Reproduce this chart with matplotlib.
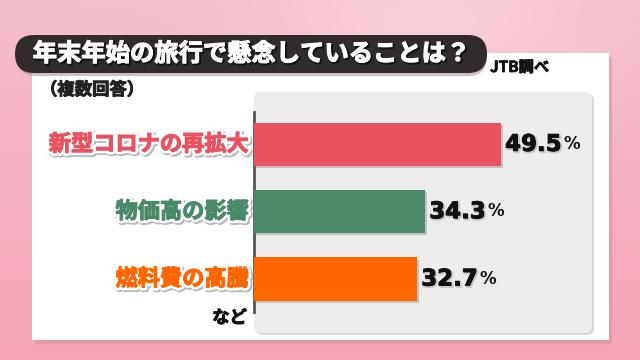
import matplotlib
matplotlib.use('Agg')
import matplotlib.pyplot as plt
import matplotlib.patheffects as pe
from matplotlib.patches import FancyBboxPatch
import numpy as np

plt.rcParams['font.family'] = ['Noto Sans CJK JP', 'DejaVu Sans']

# data
categories = ['新型コロナの再拡大', '物価高の影響', '燃料費の高騰']
values = [49.5, 34.3, 32.7]
bar_colors = ['#e8535f', '#4b8a68', '#ff6600']
title = '年末年始の旅行で懸念していることは？'
note = '（複数回答）'
source = 'JTB調べ'
footer = 'など'

fig = plt.figure(figsize=(6.4, 3.6), dpi=100)

# background layer in pixel coordinates (origin top-left)
bg = fig.add_axes([0, 0, 1, 1])
bg.set_xlim(0, 640)
bg.set_ylim(360, 0)
bg.axis('off')

yy, xx = np.mgrid[0:360, 0:640]
top = np.array([0xf5, 0xbe, 0xcb]) / 255
bottom = np.array([0xf8, 0xa4, 0xb8]) / 255
t = (yy / 360.0)[..., None]
grad = top * (1 - t) + bottom * t
blob = np.exp(-(((xx - 430) / 170.0) ** 2 + ((yy - 30) / 90.0) ** 2))[..., None]
grad = grad * (1 - 0.5 * blob) + np.array([0.99, 0.88, 0.91]) * 0.5 * blob
bg.imshow(grad, extent=(0, 640, 360, 0), aspect='auto', zorder=0)

# white panel with soft shadow
bg.add_patch(FancyBboxPatch((35, 57), 577, 287, boxstyle='round,pad=0,rounding_size=2',
                            fc='#d98a9c', ec='none', alpha=0.5, zorder=1))
bg.add_patch(FancyBboxPatch((32, 53), 577, 287, boxstyle='round,pad=0,rounding_size=1',
                            fc='white', ec='none', zorder=2))

# gray plot area
bg.add_patch(FancyBboxPatch((256, 94), 338, 241, boxstyle='round,pad=0,rounding_size=7',
                            fc='#d6d6d6', ec='none', zorder=3))
bg.add_patch(FancyBboxPatch((254, 92), 338, 241, boxstyle='round,pad=0,rounding_size=7',
                            fc='#ececec', ec='none', zorder=4))

# title pill
bg.add_patch(FancyBboxPatch((17, 38), 470, 38, boxstyle='round,pad=0,rounding_size=19',
                            fc='#b0979c', ec='none', alpha=0.6, zorder=5))
bg.add_patch(FancyBboxPatch((15, 35), 472, 38, boxstyle='round,pad=0,rounding_size=19',
                            fc='#312b2b', ec='none', zorder=6))
bg.text(251, 54, title, color='white', fontsize=17.5, fontweight='bold',
        ha='center', va='center', zorder=7,
        path_effects=[pe.Stroke(linewidth=1.6, foreground='#111111', offset=(1, -1)),
                      pe.Stroke(linewidth=0.8, foreground='white'), pe.Normal()])


def heavy(color, lw=0.7):
    return [pe.Stroke(linewidth=lw, foreground=color), pe.Normal()]


bg.text(490, 67, source, fontsize=11, fontweight='bold', color='#111111',
        ha='left', va='center', zorder=7, path_effects=heavy('#111111', 0.5))
bg.text(40, 90, note, fontsize=12.5, fontweight='bold', color='#222222',
        ha='left', va='center', zorder=7, path_effects=heavy('#222222'))
bg.text(247, 318, footer, fontsize=12.5, fontweight='bold', color='#111111',
        ha='right', va='center', zorder=7, path_effects=heavy('#111111'))

# bar chart
ax = fig.add_axes([254 / 640, (360 - 312) / 360, 338 / 640, 200 / 360])
ax.patch.set_visible(False)
ypos = np.arange(len(categories))
ax.barh(ypos, values, height=0.64, color=bar_colors, zorder=3,
        path_effects=[pe.SimplePatchShadow(offset=(1.5, -1.5), shadow_rgbFace='#9a9a9a', alpha=0.5),
                      pe.Normal()])
ax.set_xlim(0, 338 / 4.99)
ax.set_ylim(2.49, -0.48)
for s in ['top', 'right', 'bottom']:
    ax.spines[s].set_visible(False)
ax.spines['left'].set_color('#555555')
ax.spines['left'].set_linewidth(2)
ax.set_xticks([])
ax.set_yticks([])

for y, name, v, c in zip(ypos, categories, values, bar_colors):
    ax.annotate(name, xy=(0, y), xytext=(-5, 0), textcoords='offset pixels',
                ha='right', va='center', fontsize=16, fontweight='bold', color=c,
                annotation_clip=False,
                path_effects=[pe.Stroke(linewidth=5, foreground='#b8b8b8', offset=(1, -1)),
                              pe.Stroke(linewidth=4.5, foreground='white'),
                              pe.Stroke(linewidth=0.8, foreground=c), pe.Normal()])
    num = ax.annotate(f'{v:.1f}', xy=(v, y), xytext=(4, 0), textcoords='offset pixels',
                      ha='left', va='center', fontsize=16.5, fontweight='bold',
                      family='DejaVu Sans', color='#111111', annotation_clip=False,
                      path_effects=[pe.Stroke(linewidth=1.5, foreground='#c8c8c8', offset=(1, -1)),
                                    pe.Stroke(linewidth=0.6, foreground='#111111'), pe.Normal()])
    ax.annotate('%', xy=(1, 0), xycoords=num, xytext=(2, 3), textcoords='offset pixels',
                ha='left', va='bottom', fontsize=12, fontweight='bold',
                family='DejaVu Sans', color='#111111', annotation_clip=False)

fig.savefig('out.png', dpi=100)
